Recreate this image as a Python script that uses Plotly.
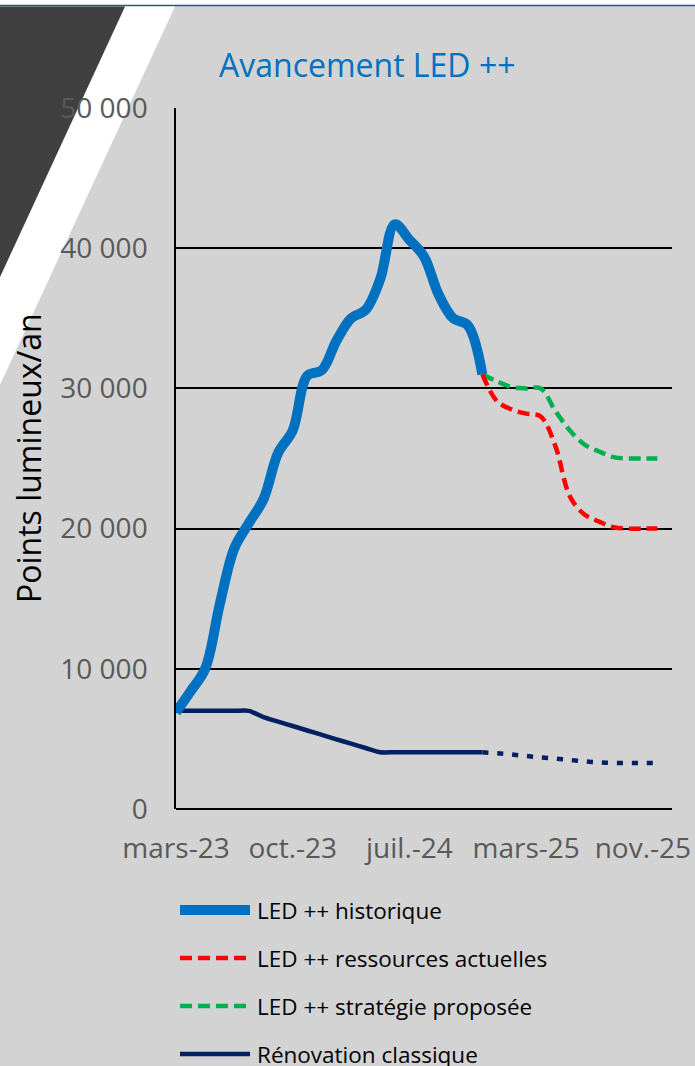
import plotly.graph_objects as go

# ---------------- data ----------------
tick_positions = [0, 8, 16, 24, 32]
tick_labels = ["mars-23", "oct.-23", "juil.-24", "mars-25", "nov.-25"]

hist_x = list(range(0, 22))
led_historique = [6900, 8400, 10000, 14600, 18600, 20400, 22100, 25400, 27000, 30900,
                  31300, 33400, 35000, 35600, 37800, 41700, 40600, 39400, 36700, 35000,
                  34500, 31000]

proj_x = list(range(21, 34))
led_ressources = [31000, 29100, 28500, 28200, 28000, 25900, 22300, 21000, 20500, 20100,
                  20000, 20000, 20000]
led_strategie = [31000, 30500, 30100, 30000, 30000, 28400, 27000, 26000, 25500, 25100,
                 25000, 25000, 25000]

renov_hist = [7000, 7000, 7000, 7000, 7000, 7000, 6550, 6230, 5920, 5600, 5290, 4970,
              4660, 4350, 4050, 4050, 4050, 4050, 4050, 4050, 4050, 4050]
renov_proj = [4050, 3970, 3890, 3780, 3680, 3600, 3500, 3400, 3320, 3280, 3280, 3280, 3280]

legend_names = ["LED ++ historique", "LED ++ ressources actuelles",
                "LED ++ stratégie proposée", "Rénovation classique"]

# ---------------- style ----------------
BLUE = "#0070C0"
RED = "#FF0000"
GREEN = "#00B050"
NAVY = "#002060"
GRAY_BG = "#D3D3D3"
FONT = "Open Sans"

W, H = 695, 1066
L, R, T, B = 176, 672, 108, 809  # plot area in px


def px(x):
    return (x - L) / (R - L)


def py(y):
    return (B - y) / (B - T)


fig = go.Figure()

fig.add_trace(go.Scatter(x=hist_x, y=renov_hist, mode="lines",
                         line=dict(color=NAVY, width=4.5, shape="spline", smoothing=0.6),
                         name=legend_names[3], showlegend=False, hoverinfo="skip"))
fig.add_trace(go.Scatter(x=proj_x, y=renov_proj, mode="lines",
                         line=dict(color=NAVY, width=4.5, dash="6px,9px", shape="spline", smoothing=0.6),
                         showlegend=False, hoverinfo="skip"))
fig.add_trace(go.Scatter(x=proj_x, y=led_strategie, mode="lines",
                         line=dict(color=GREEN, width=4.5, dash="12px,6px", shape="spline", smoothing=1),
                         name=legend_names[2], showlegend=False, hoverinfo="skip"))
fig.add_trace(go.Scatter(x=proj_x, y=led_ressources, mode="lines",
                         line=dict(color=RED, width=4.5, dash="12px,6px", shape="spline", smoothing=1),
                         name=legend_names[1], showlegend=False, hoverinfo="skip"))
fig.add_trace(go.Scatter(x=hist_x, y=led_historique, mode="lines",
                         line=dict(color=BLUE, width=10, shape="spline", smoothing=1),
                         name=legend_names[0], showlegend=False, hoverinfo="skip"))

shapes = []
# white top strip and thin blue border
shapes.append(dict(type="rect", xref="paper", yref="paper", layer="below",
                   x0=px(0), x1=px(W), y0=py(0), y1=py(5.5), fillcolor="white", line_width=0))
shapes.append(dict(type="line", xref="paper", yref="paper", layer="below",
                   x0=px(0), x1=px(W), y0=py(5.5), y1=py(5.5), line=dict(color="#2F4F8F", width=1.5)))
# white diagonal stripe
shapes.append(dict(type="path", xref="paper", yref="paper", layer="below",
                   path=f"M{px(125)},{py(6.5)} L{px(175)},{py(6.5)} L{px(0)},{py(385)} L{px(0)},{py(277)} Z",
                   fillcolor="white", line_width=0))
# dark triangle
shapes.append(dict(type="path", xref="paper", yref="paper", layer="below",
                   path=f"M{px(0)},{py(6.5)} L{px(125)},{py(6.5)} L{px(0)},{py(277)} Z",
                   fillcolor="#404040", line_width=0))

# manual legend
leg_y = [910, 958, 1006, 1054]
leg_styles = [dict(color=BLUE, width=10, dash="solid"),
              dict(color=RED, width=4.5, dash="12px,6px"),
              dict(color=GREEN, width=4.5, dash="12px,6px"),
              dict(color=NAVY, width=4.5, dash="solid")]
annotations = []
for name, yy, st in zip(legend_names, leg_y, leg_styles):
    shapes.append(dict(type="line", xref="paper", yref="paper",
                       x0=px(180), x1=px(250), y0=py(yy), y1=py(yy), line=st))
    annotations.append(dict(text=name, xref="paper", yref="paper", x=px(255), y=py(yy),
                            xanchor="left", yanchor="middle", showarrow=False,
                            font=dict(family=FONT, size=22.5, color="black")))

# title
annotations.append(dict(text="Avancement LED ++", xref="paper", yref="paper",
                        x=px(367), y=py(64), xanchor="center", yanchor="middle",
                        showarrow=False, font=dict(family=FONT, size=32, color=BLUE)))
# y axis title
annotations.append(dict(text="Points lumineux/an", xref="paper", yref="paper",
                        x=px(28), y=py(458), xanchor="center", yanchor="middle",
                        textangle=-90, showarrow=False,
                        font=dict(family=FONT, size=32, color="black")))

fig.update_layout(
    width=W, height=H, autosize=False,
    margin=dict(l=L, r=W - R, t=T, b=H - B, pad=0, autoexpand=False),
    paper_bgcolor=GRAY_BG, plot_bgcolor=GRAY_BG,
    separators=", ",
    shapes=shapes, annotations=annotations,
    showlegend=False,
    font=dict(family=FONT),
)
fig.update_xaxes(range=[0, 34], tickmode="array", tickvals=tick_positions, ticktext=tick_labels,
                 showgrid=False, zeroline=False, showline=False, ticks="", automargin=False,
                 tickfont=dict(family=FONT, size=28, color="#595959"), ticklabelstandoff=20)
fig.update_yaxes(range=[0, 50000], tickmode="linear", tick0=0, dtick=10000, tickformat=",d",
                 showgrid=True, gridcolor="black", gridwidth=1.5, zeroline=True, zerolinecolor="black",
                 zerolinewidth=1.5, showline=True, linecolor="black", linewidth=1.5, ticks="",
                 automargin=False,
                 tickfont=dict(family=FONT, size=28, color="#595959"), ticklabelstandoff=21)

fig.write_html("out.html", config={"displayModeBar": False},
               post_script="document.body.style.margin='0px';document.body.style.overflow='hidden';")
